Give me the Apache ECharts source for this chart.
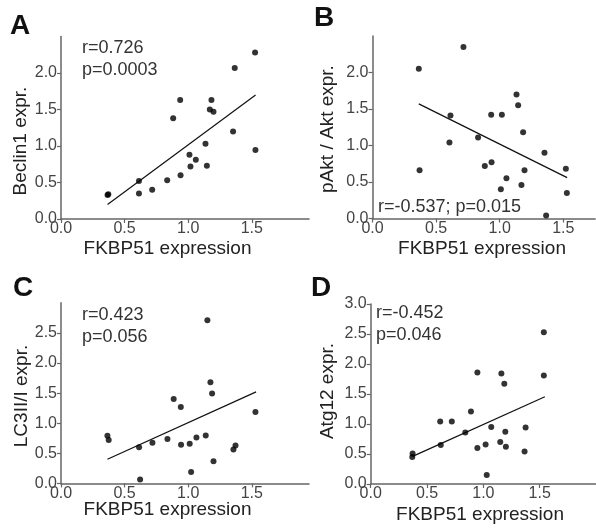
<!DOCTYPE html>
<html><head><meta charset="utf-8">
<script src="https://cdn.jsdelivr.net/npm/echarts@6/dist/echarts.min.js"></script>
<style>html,body{margin:0;padding:0;background:#fff}#c{width:596px;height:531px}</style>
</head><body><div id="c"></div>
<script>
// Panel A: Beclin1
const xA = [0.366,0.372,0.613,0.613,0.717,0.835,0.94,0.882,0.937,1.01,1.018,1.06,1.136,1.147,1.183,1.17,1.199,1.353,1.366,1.529,1.526];
const yA = [0.33,0.34,0.52,0.35,0.40,0.53,0.60,1.38,1.63,0.88,0.72,0.81,1.03,0.73,1.63,1.50,1.47,1.20,2.07,0.945,2.28];
// Panel B: pAkt / Akt
const xB = [0.364,0.37,0.613,0.605,0.715,0.83,0.883,0.936,0.933,1.017,1.009,1.053,1.132,1.145,1.184,1.171,1.195,1.352,1.365,1.52,1.528];
const yB = [2.05,0.66,1.41,1.04,2.35,1.11,0.72,0.77,1.42,1.42,0.40,0.55,1.70,1.55,1.18,0.46,0.66,0.90,0.04,0.68,0.35];
// Panel C: LC3II/I
const xC = [0.365,0.375,0.614,0.622,0.719,0.837,0.886,0.942,0.944,1.012,1.023,1.065,1.138,1.151,1.175,1.188,1.199,1.356,1.372,1.529];
const yC = [0.79,0.72,0.60,0.066,0.675,0.736,1.40,1.27,0.64,0.66,0.19,0.764,0.797,2.71,1.68,1.495,0.37,0.565,0.63,1.185];
// Panel D: Atg12
const xD = [0.372,0.369,0.617,0.622,0.72,0.84,0.89,0.947,0.947,1.02,1.03,1.07,1.15,1.16,1.186,1.195,1.2,1.366,1.375,1.537,1.537];
const yD = [0.51,0.45,1.04,0.65,1.04,0.86,1.21,1.86,0.60,0.66,0.15,0.95,0.70,1.84,1.67,0.87,0.62,0.54,0.94,2.53,1.81];

// Regression lines as drawn in the figure (start and end, data units)
const fitA = [[0.366, 0.20], [1.53, 1.70]];
const fitB = [[0.364, 1.57], [1.53, 0.56]];
const fitC = [[0.365, 0.40], [1.534, 1.52]];
const fitD = [[0.372, 0.46], [1.546, 1.455]];

const xTicks = [0, 0.5, 1.0, 1.5];
const yTicksAB = [0, 0.5, 1.0, 1.5, 2.0];
const yTicksC = [0, 0.5, 1.0, 1.5, 2.0, 2.5];
const yTicksD = [0, 0.5, 1.0, 1.5, 2.0, 2.5, 3.0];

const xTitle = 'FKBP51 expression';
const yTitles = ['Beclin1 expr.', 'pAkt / Akt expr.', 'LC3II/I expr.', 'Atg12 expr.'];
const letters = ['A', 'B', 'C', 'D'];
const statsA = ['r=0.726', 'p=0.0003'];
const statsB = ['r=-0.537; p=0.015'];
const statsC = ['r=0.423', 'p=0.056'];
const statsD = ['r=-0.452', 'p=0.046'];

const FONT = '"Liberation Sans", Arial, sans-serif';
const AX = '#666';

function pts(xs, ys) { return xs.map((x, i) => [x, ys[i]]); }

const grids = [
  {left: 61, top: 36.5, width: 248, height: 182.5},
  {left: 372.5, top: 36, width: 222.6, height: 182.5},
  {left: 61, top: 302.8, width: 248, height: 180.6},
  {left: 370.7, top: 304, width: 226, height: 180}
];
const xMax = [1.95, 1.75, 1.95, 2.0];
const yMax = [2.5, 2.5, 3.0, 3.0];
const yTickSets = [yTicksAB, yTicksAB, yTicksC, yTicksD];

function axisCommon(ticks, margin) {
  return {
    type: 'value', min: 0,
    axisLine: {show: true, lineStyle: {color: AX, width: 1.5}},
    axisTick: {show: true, length: 4, inside: false, lineStyle: {color: AX, width: 1.2}, customValues: ticks},
    axisLabel: {color: '#444', fontSize: 16, fontFamily: FONT, customValues: ticks, margin: margin,
      formatter: v => v.toFixed(1)},
    splitLine: {show: false}
  };
}

const xAxis = grids.map((g, i) => Object.assign(axisCommon(xTicks, 2), {gridIndex: i, max: xMax[i]}));
const yAxis = grids.map((g, i) => Object.assign(axisCommon(yTickSets[i], 4), {gridIndex: i, max: yMax[i]}));

const sets = [[xA, yA, fitA], [xB, yB, fitB], [xC, yC, fitC], [xD, yD, fitD]];
const series = [];
sets.forEach((s, i) => {
  series.push({type: 'scatter', xAxisIndex: i, yAxisIndex: i, data: pts(s[0], s[1]),
    symbolSize: 6, itemStyle: {color: '#000'}, z: 3});
  series.push({type: 'line', xAxisIndex: i, yAxisIndex: i, data: s[2],
    showSymbol: false, lineStyle: {color: '#111', width: 1.2}, z: 2});
});

function txt(str, x, y, size, opts) {
  return {type: 'text', x: x, y: y, style: Object.assign({
    text: str, fontSize: size, fontFamily: FONT, fill: '#333',
    textAlign: 'left', textVerticalAlign: 'middle'}, opts || {})};
}
function vtxt(str, x, y) {
  return Object.assign(txt(str, x, y, 19, {textAlign: 'center', fill: '#222'}), {rotation: Math.PI/2});
}
const graphic = [
  txt(letters[0], 10, 26, 28, {fontWeight: 'bold', fill: '#111'}),
  txt(letters[1], 314, 18, 28, {fontWeight: 'bold', fill: '#111'}),
  txt(letters[2], 13, 288, 28, {fontWeight: 'bold', fill: '#111'}),
  txt(letters[3], 311, 288, 28, {fontWeight: 'bold', fill: '#111'}),
  txt(statsA[0], 82, 48.5, 18), txt(statsA[1], 82, 70.5, 18),
  txt(statsB[0], 378, 207, 18),
  txt(statsC[0], 82, 315.5, 18), txt(statsC[1], 82, 337, 18),
  txt(statsD[0], 376, 313, 18), txt(statsD[1], 376, 335, 18),
  txt(xTitle, 167.5, 249, 19, {textAlign: 'center', fill: '#222'}),
  txt(xTitle, 482, 249, 19, {textAlign: 'center', fill: '#222'}),
  txt(xTitle, 167.5, 510, 19, {textAlign: 'center', fill: '#222'}),
  txt(xTitle, 480, 515, 19, {textAlign: 'center', fill: '#222'}),
  vtxt(yTitles[0], 21, 141),
  vtxt(yTitles[1], 328, 129),
  vtxt(yTitles[2], 22, 396),
  vtxt(yTitles[3], 328, 391)
];

const chart = echarts.init(document.getElementById('c'), null, {renderer: 'canvas'});
chart.setOption({
  animation: false,
  backgroundColor: '#fff',
  grid: grids,
  xAxis: xAxis,
  yAxis: yAxis,
  series: series,
  graphic: graphic
});
</script></body></html>
